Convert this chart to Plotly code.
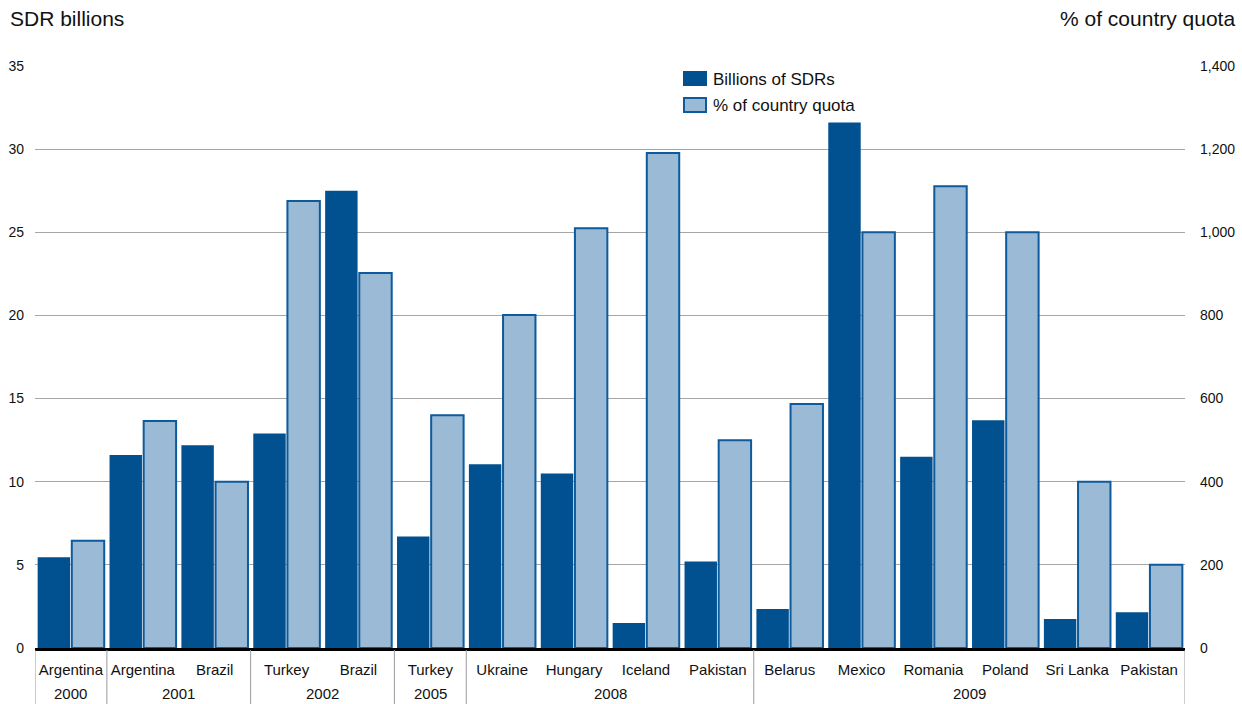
import plotly.graph_objects as go

# IMF arrangements: amount drawn and size relative to quota
years = ["2000", "2001", "2001", "2002", "2002", "2005", "2008", "2008",
         "2008", "2008", "2009", "2009", "2009", "2009", "2009", "2009"]
countries = ["Argentina", "Argentina", "Brazil", "Turkey", "Brazil", "Turkey",
             "Ukraine", "Hungary", "Iceland", "Pakistan", "Belarus", "Mexico",
             "Romania", "Poland", "Sri Lanka", "Pakistan"]
sdr_billions = [5.45, 11.6, 12.2, 12.9, 27.5, 6.7, 11.05, 10.5, 1.5, 5.2,
                2.35, 31.6, 11.5, 13.7, 1.75, 2.15]
pct_quota = [258, 546, 400, 1075, 902, 560, 801, 1010, 1191, 500,
             587, 1000, 1111, 1000, 400, 200]

DARK = "#01508f"
LIGHT = "#9bbad6"
EDGE = "#0d5a9c"
DIV = "#9a9a9a"
FONT = "Liberation Sans, Arial, sans-serif"
TXT = "#111111"

# one slot per arrangement along the x axis
pos = list(range(len(countries)))

# plot area in pixels, used to place titles, legend key and year row
L, R, T, B = 35, 1185, 66, 648


def px(xp):
    return (xp - L) / (R - L)


def py(yp):
    return (B - yp) / (B - T)


fig = go.Figure()
fig.add_trace(go.Bar(
    x=pos, y=sdr_billions, name="Billions of SDRs",
    marker=dict(color=DARK, line=dict(color=DARK, width=0)),
    offsetgroup="a", yaxis="y", showlegend=False,
))
fig.add_trace(go.Bar(
    x=pos, y=pct_quota, name="% of country quota",
    marker=dict(color=LIGHT, line=dict(color=EDGE, width=2)),
    offsetgroup="b", yaxis="y2", showlegend=False,
))

# year groups: runs of equal years, with a divider at every group edge
groups = []
start = 0
for i in range(1, len(years) + 1):
    if i == len(years) or years[i] != years[start]:
        groups.append((years[start], start, i - 1))
        start = i

shapes = []
annotations = []
edges = sorted({g[1] - 0.5 for g in groups} | {g[2] + 0.5 for g in groups})
for e in edges:
    shapes.append(dict(type="line", xref="x", yref="paper",
                       x0=e, x1=e, y0=py(650), y1=py(704),
                       line=dict(color=DIV, width=1)))
for label, a, b in groups:
    annotations.append(dict(text=label, xref="x", yref="paper",
                            x=(a + b) / 2, y=py(693), xanchor="center",
                            yanchor="middle", showarrow=False,
                            font=dict(size=15, family=FONT, color=TXT)))

# legend key
shapes += [
    dict(type="rect", xref="paper", yref="paper",
         x0=px(683), x1=px(707), y0=py(86), y1=py(71),
         fillcolor=DARK, line=dict(width=0)),
    dict(type="rect", xref="paper", yref="paper",
         x0=px(684), x1=px(706), y0=py(112), y1=py(98),
         fillcolor=LIGHT, line=dict(color=EDGE, width=2)),
]

annotations += [
    dict(text="SDR billions", xref="paper", yref="paper",
         x=px(8), y=py(18), xanchor="left", yanchor="middle",
         showarrow=False, font=dict(size=21, family=FONT, color=TXT)),
    dict(text="% of country quota", xref="paper", yref="paper",
         x=px(1237), y=py(18), xanchor="right", yanchor="middle",
         showarrow=False, font=dict(size=21, family=FONT, color=TXT)),
    dict(text="Billions of SDRs", xref="paper", yref="paper",
         x=px(711), y=py(79), xanchor="left", yanchor="middle",
         showarrow=False, font=dict(size=17, family=FONT, color=TXT)),
    dict(text="% of country quota", xref="paper", yref="paper",
         x=px(711), y=py(106), xanchor="left", yanchor="middle",
         showarrow=False, font=dict(size=17, family=FONT, color=TXT)),
]

fig.update_layout(
    width=1242, height=704,
    margin=dict(l=L, r=1242 - R, t=T, b=704 - B, autoexpand=False),
    paper_bgcolor="white", plot_bgcolor="white",
    font=dict(family=FONT, size=14, color=TXT),
    barmode="group", bargap=0.05, bargroupgap=0.05,
    showlegend=False,
    xaxis=dict(
        range=[-0.5, len(pos) - 0.5], tickvals=pos, ticktext=countries,
        tickangle=0, showline=True, linecolor="black", linewidth=3,
        ticks="", showgrid=False, zeroline=False, automargin=False,
        ticklabelstandoff=6,
        tickfont=dict(size=15, family=FONT, color=TXT),
    ),
    yaxis=dict(
        range=[0, 35], dtick=5, showgrid=True, gridcolor="#a6a6a6",
        gridwidth=1, zeroline=False, showline=False, ticks="",
        ticklabelstandoff=10, automargin=False,
        tickfont=dict(size=14, family=FONT, color=TXT),
    ),
    yaxis2=dict(
        range=[0, 1400], dtick=200, overlaying="y", side="right",
        showgrid=False, zeroline=False, showline=False, ticks="",
        tickformat=",", ticklabelstandoff=14, automargin=False,
        tickfont=dict(size=14, family=FONT, color=TXT),
    ),
    shapes=shapes,
    annotations=annotations,
)

fig.write_html("out.html")
